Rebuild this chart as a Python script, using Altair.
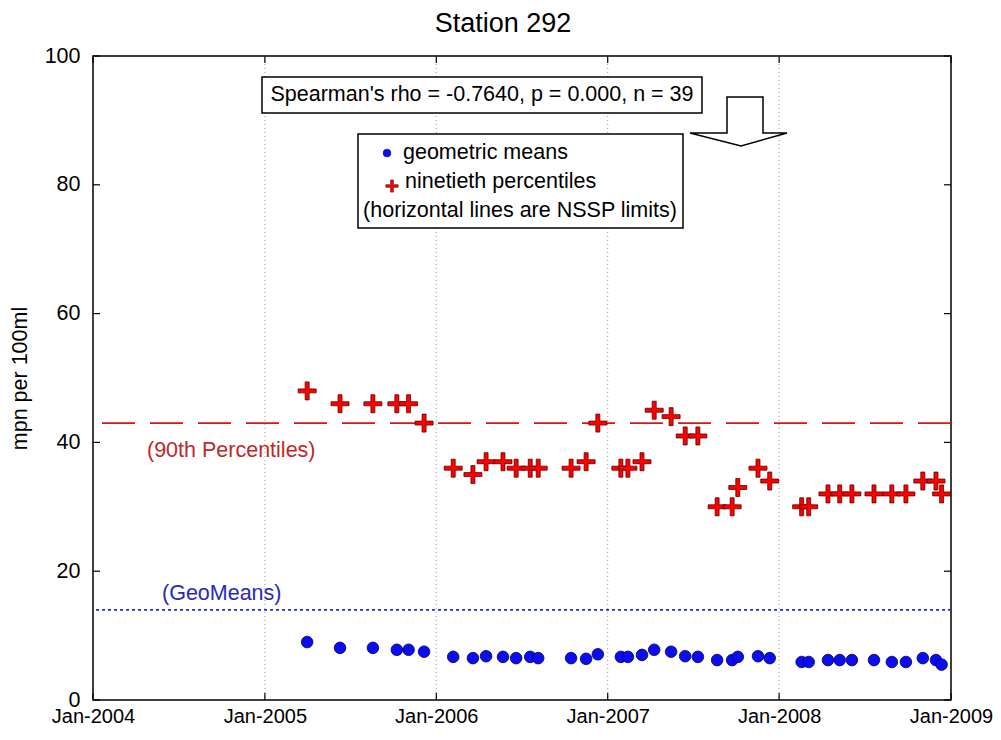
import altair as alt
import pandas as pd

# ---------------- data ----------------
dates = [
    "2005-04-01", "2005-06-10", "2005-08-19", "2005-10-09", "2005-11-03", "2005-12-06",
    "2006-02-06", "2006-03-20", "2006-04-17", "2006-05-23", "2006-06-20", "2006-07-20",
    "2006-08-06", "2006-10-15", "2006-11-16", "2006-12-11",
    "2007-01-29", "2007-02-13", "2007-03-15", "2007-04-10", "2007-05-16", "2007-06-15",
    "2007-07-12", "2007-08-22", "2007-09-23", "2007-10-05", "2007-11-17", "2007-12-12",
    "2008-02-18", "2008-03-04", "2008-04-14", "2008-05-09", "2008-06-04", "2008-07-21",
    "2008-08-28", "2008-09-27", "2008-11-02", "2008-11-30", "2008-12-12",
]
geo_means = [
    9.0, 8.1, 8.1, 7.8, 7.8, 7.5,
    6.7, 6.5, 6.8, 6.7, 6.5, 6.7, 6.5, 6.5, 6.4, 7.1,
    6.7, 6.7, 7.0, 7.8, 7.5, 6.8, 6.7, 6.2, 6.2, 6.7, 6.8, 6.5,
    5.9, 5.9, 6.2, 6.2, 6.2, 6.2, 5.9, 5.9, 6.5, 6.2, 5.5,
]
p90 = [
    48, 46, 46, 46, 46, 43,
    36, 35, 37, 37, 36, 36, 36, 36, 37, 43,
    36, 36, 37, 45, 44, 41, 41, 30, 30, 33, 36, 34,
    30, 30, 32, 32, 32, 32, 32, 32, 34, 34, 32,
]
nssp_geo_limit = [14]
nssp_p90_limit = [43]
year_ticks = [2004, 2005, 2006, 2007, 2008, 2009]
y_ticks = [0, 20, 40, 60, 80, 100]

title_text = "Station 292"
y_title = "mpn per 100ml"
stats_text = "Spearman's rho = -0.7640, p = 0.000, n = 39"
legend_geo = "geometric means"
legend_p90 = "ninetieth percentiles"
legend_note = "(horizontal lines are NSSP limits)"
label_p90 = "(90th Percentiles)"
label_geo = "(GeoMeans)"

# ---------------- frames ----------------
df = pd.DataFrame({"date": [d + "T00:00:00" for d in dates], "geo": geo_means, "p90": p90})
years_df = pd.DataFrame({"date": [f"{y}-01-01T00:00:00" for y in year_ticks]})
inner_years_df = years_df.iloc[1:-1]
yt_df = pd.DataFrame({"v": y_ticks})
one = pd.DataFrame({"a": [0]})

W, H = 858, 644
FONT = "Liberation Sans"
FS = 21.5

x_scale = alt.Scale(
    domain=[alt.DateTime(year=2004, month=1, date=1), alt.DateTime(year=2009, month=1, date=1)],
    nice=False,
)
x_axis = alt.Axis(
    values=[alt.DateTime(year=y, month=1, date=1) for y in year_ticks],
    format="%b-%Y", title=None, grid=False, ticks=False, tickSize=0, domain=False,
    labelFontSize=20, labelFont=FONT, labelColor="black", labelPadding=6,
    labelFlush=False, labelOverlap=False,
)
y_scale = alt.Scale(domain=[0, 100], nice=False, zero=True)
y_axis = alt.Axis(
    values=y_ticks, title=y_title, grid=False, ticks=False, tickSize=0, domain=False,
    labelFontSize=FS, labelFont=FONT, labelColor="black", labelPadding=13,
    titleFontSize=FS, titleFont=FONT, titleFontWeight="normal", titleColor="black",
    titleX=-62, titleY=H / 2,
)


def X(field="date"):
    return alt.X(f"{field}:T", scale=x_scale, axis=x_axis)


def Y(field):
    return alt.Y(f"{field}:Q", scale=y_scale, axis=y_axis)


cross_path = ("M-1,-0.22L-0.22,-0.22L-0.22,-1L0.22,-1L0.22,-0.22L1,-0.22L1,0.22"
              "L0.22,0.22L0.22,1L-0.22,1L-0.22,0.22L-1,0.22Z")
arrow_path = ("M-0.237,-0.505L0.505,-0.505L0.505,0.237L1,0.237L0.052,0.505"
              "L-1,0.237L-0.237,0.237Z")

# grid lines (dotted, vertical at years)
grid = alt.Chart(inner_years_df).mark_rule(color="#9a9a9a", strokeDash=[1, 3], strokeWidth=1).encode(x=X())

# inward ticks
ticks_left = alt.Chart(yt_df).mark_rule(color="black", strokeWidth=1.2).encode(
    y=Y("v"), x=alt.value(0), x2=alt.value(7))
ticks_right = alt.Chart(yt_df).mark_rule(color="black", strokeWidth=1.2).encode(
    y=Y("v"), x=alt.value(W - 7), x2=alt.value(W))
ticks_top = alt.Chart(years_df).mark_rule(color="black", strokeWidth=1.2).encode(
    x=X(), y=alt.value(0), y2=alt.value(7))
ticks_bottom = alt.Chart(years_df).mark_rule(color="black", strokeWidth=1.2).encode(
    x=X(), y=alt.value(H - 7), y2=alt.value(H))

# NSSP limit lines
p90_line = alt.Chart(pd.DataFrame({"v": nssp_p90_limit})).mark_rule(
    color="#d41818", strokeDash=[33, 15], strokeWidth=1.6).encode(y=Y("v"))
geo_line = alt.Chart(pd.DataFrame({"v": nssp_geo_limit})).mark_rule(
    color="#2a2ae0", strokeDash=[3, 3], strokeWidth=1.6).encode(y=Y("v"))

# data points
geo_pts = alt.Chart(df).mark_point(
    shape="circle", filled=True, size=135, fill="#0c0cf2", stroke="#00005a",
    strokeWidth=0.8, opacity=1).encode(x=X(), y=Y("geo"))
p90_pts = alt.Chart(df).mark_point(
    shape=cross_path, filled=True, size=324, fill="#ff0000", stroke="#5a0000",
    strokeWidth=0.8, opacity=1).encode(x=X(), y=Y("p90"))

# line labels
lab_p90 = alt.Chart(one).mark_text(
    text=label_p90, align="left", baseline="middle", font=FONT, fontSize=FS, color="#c02828"
).encode(x=alt.value(54), y=alt.value(395))
lab_geo = alt.Chart(one).mark_text(
    text=label_geo, align="left", baseline="middle", font=FONT, fontSize=FS, color="#2828c0"
).encode(x=alt.value(69), y=alt.value(538))

# statistics box
stats_box = alt.Chart(one).mark_rect(fill="white", stroke="black", strokeWidth=1.5).encode(
    x=alt.value(169), x2=alt.value(609), y=alt.value(21), y2=alt.value(57))
stats_txt = alt.Chart(one).mark_text(
    text=stats_text, align="center", baseline="middle", font=FONT, fontSize=FS, color="black"
).encode(x=alt.value(389), y=alt.value(39))

# arrow
arrow = alt.Chart(one).mark_point(
    shape=arrow_path, filled=True, size=97 * 97, fill="white", stroke="black",
    strokeWidth=1.5, opacity=1).encode(x=alt.value(645.5), y=alt.value(65.5))

# legend box
leg_box = alt.Chart(one).mark_rect(fill="white", stroke="black", strokeWidth=1.5).encode(
    x=alt.value(265), x2=alt.value(590), y=alt.value(78), y2=alt.value(172))
leg_dot = alt.Chart(one).mark_point(
    shape="circle", filled=True, size=60, fill="#0c0cf2", stroke="#00005a",
    strokeWidth=0.6, opacity=1).encode(x=alt.value(294), y=alt.value(97))
leg_cross = alt.Chart(one).mark_point(
    shape=cross_path, filled=True, size=150, fill="#ff0000", stroke="#5a0000",
    strokeWidth=0.6, opacity=1).encode(x=alt.value(299), y=alt.value(130))
leg_t1 = alt.Chart(one).mark_text(
    text=legend_geo, align="left", baseline="middle", font=FONT, fontSize=FS, color="black"
).encode(x=alt.value(310), y=alt.value(97))
leg_t2 = alt.Chart(one).mark_text(
    text=legend_p90, align="left", baseline="middle", font=FONT, fontSize=FS, color="black"
).encode(x=alt.value(312), y=alt.value(126))
leg_t3 = alt.Chart(one).mark_text(
    text=legend_note, align="center", baseline="middle", font=FONT, fontSize=FS, color="black"
).encode(x=alt.value(427), y=alt.value(155))

chart = alt.layer(
    grid, ticks_left, ticks_right, ticks_top, ticks_bottom,
    p90_line, geo_line, geo_pts, p90_pts, lab_p90, lab_geo,
    stats_box, stats_txt, arrow, leg_box, leg_dot, leg_cross, leg_t1, leg_t2, leg_t3,
).properties(
    width=W, height=H,
    title=alt.TitleParams(title_text, font=FONT, fontSize=27, fontWeight="normal",
                          color="black", anchor="middle", dx=-19, offset=7),
    autosize=alt.AutoSizeParams(type="none"),
    padding={"left": 85, "top": 48, "right": 42, "bottom": 32},
    background="white",
).configure_view(
    stroke="black", strokeWidth=1.5, fill="white",
)

chart.save("out.html", embed_options={"renderer": "svg", "actions": False})
